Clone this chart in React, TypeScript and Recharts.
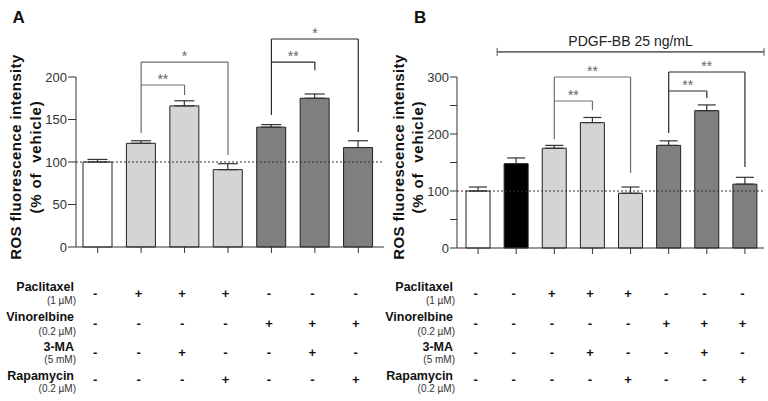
import React from 'react';
import {
  BarChart, Bar, XAxis, YAxis, ErrorBar, Cell, ReferenceLine, ReferenceArea,
} from 'recharts';

// ---------- data ----------
const groupsA = ['Vehicle', 'Paclitaxel', 'Paclitaxel + 3-MA', 'Paclitaxel + Rapamycin', 'Vinorelbine', 'Vinorelbine + 3-MA', 'Vinorelbine + Rapamycin'];
const rosA = [100, 122, 166, 91, 141, 175, 117];
const semA = [3, 3, 6, 7, 3, 5, 8];

const groupsB = ['Vehicle', 'PDGF-BB', 'PDGF-BB + Paclitaxel', 'PDGF-BB + Paclitaxel + 3-MA', 'PDGF-BB + Paclitaxel + Rapamycin', 'PDGF-BB + Vinorelbine', 'PDGF-BB + Vinorelbine + 3-MA', 'PDGF-BB + Vinorelbine + Rapamycin'];
const rosB = [100, 148, 175, 220, 96, 180, 241, 112];
const semB = [7, 10, 5, 9, 11, 8, 10, 12];

const ticksA = [0, 50, 100, 150, 200];
const ticksB = [0, 50, 100, 150, 200, 250, 300];

const treatmentNames = ['Paclitaxel', 'Vinorelbine', '3-MA', 'Rapamycin'];
const treatmentDoses = ['(1 µM)', '(0.2 µM)', '(5 mM)', '(0.2 µM)'];

const paclitaxelA = ['-', '+', '+', '+', '-', '-', '-'];
const vinorelbineA = ['-', '-', '-', '-', '+', '+', '+'];
const maA = ['-', '-', '+', '-', '-', '+', '-'];
const rapamycinA = ['-', '-', '-', '+', '-', '-', '+'];

const paclitaxelB = ['-', '-', '+', '+', '+', '-', '-', '-'];
const vinorelbineB = ['-', '-', '-', '-', '-', '+', '+', '+'];
const maB = ['-', '-', '-', '+', '-', '-', '+', '-'];
const rapamycinB = ['-', '-', '-', '-', '+', '-', '-', '+'];

// significance brackets: from/to group index, level of bar, leg ends (value units)
const sigA = [
  { from: 1, to: 2, level: 190.6, leftEnd: 134, rightEnd: 178.8, mark: '**', tone: 'pac' },
  { from: 1, to: 3, level: 217.6, leftEnd: 190.6, rightEnd: 108.2, mark: '*', tone: 'pac' },
  { from: 4, to: 5, level: 217.6, leftEnd: 155.3, rightEnd: 208, mark: '**', tone: 'vin' },
  { from: 4, to: 6, level: 244.7, leftEnd: 217.6, rightEnd: 135.3, mark: '*', tone: 'vin' },
];
const sigB = [
  { from: 2, to: 3, level: 257.9, leftEnd: 191, rightEnd: 242, mark: '**', tone: 'pac' },
  { from: 2, to: 4, level: 300, leftEnd: 257.9, rightEnd: 131.6, mark: '**', tone: 'pac' },
  { from: 5, to: 6, level: 275.4, leftEnd: 201.8, rightEnd: 263, mark: '**', tone: 'vin' },
  { from: 5, to: 7, level: 308.8, leftEnd: 275.4, rightEnd: 142, mark: '**', tone: 'vin' },
];
const pdgfLabel = 'PDGF-BB 25 ng/mL';
const pdgfLevel = 344;

// ---------- styles ----------
const FONT = '"Liberation Sans", Arial, sans-serif';
const WHITE = '#ffffff';
const LIGHT = '#d4d4d4';
const DARK = '#7f7f7f';
const BLACK = '#000000';
const fillsA = [WHITE, LIGHT, LIGHT, LIGHT, DARK, DARK, DARK];
const fillsB = [WHITE, BLACK, LIGHT, LIGHT, LIGHT, DARK, DARK, DARK];
const toneColor: Record<string, string> = { pac: '#6e6e6e', vin: '#2a2a2a' };
const AXIS = '#333333';

const dataA = groupsA.map((g, i) => ({ name: g, value: rosA[i], err: [0, semA[i]] }));
const dataB = groupsB.map((g, i) => ({ name: g, value: rosB[i], err: [0, semB[i]] }));

const signRowsY = [293, 323, 352.5, 379.5];
const labelRowsY = [287, 317, 347, 376];
const doseRowsY = [300, 331, 359, 388];

function makeSignTick(rows: string[][], groups: string[]) {
  return (props: any) => {
    const { x, payload } = props;
    let idx = groups.indexOf(payload?.value);
    if (idx < 0) idx = props.index ?? 0;
    return (
      <g>
        {rows.map((r, k) => (
          <text key={k} x={x - 2.5} y={signRowsY[k]} textAnchor="middle" dominantBaseline="central"
            fontFamily={FONT} fontWeight="bold" fontSize={13} fill="#111">{r[idx]}</text>
        ))}
      </g>
    );
  };
}

function brackets(sig: typeof sigA, groups: string[], fontSize: number) {
  const out: React.ReactNode[] = [];
  sig.forEach((s, i) => {
    const c = toneColor[s.tone];
    const a = groups[s.from];
    const b = groups[s.to];
    out.push(
      <ReferenceLine key={`l${i}`} segment={[{ x: a, y: s.leftEnd }, { x: a, y: s.level }]} stroke={c} strokeWidth={1.2} ifOverflow="visible" />,
      <ReferenceLine key={`r${i}`} segment={[{ x: b, y: s.rightEnd }, { x: b, y: s.level }]} stroke={c} strokeWidth={1.2} ifOverflow="visible" />,
      <ReferenceLine key={`h${i}`} segment={[{ x: a, y: s.level }, { x: b, y: s.level }]} stroke={c} strokeWidth={1.2} ifOverflow="visible"
        label={{ value: s.mark, position: 'top', offset: 1, fill: '#666', fontSize, fontFamily: FONT }} />,
    );
  });
  return out;
}

function RowLabels({ right }: { right: number }) {
  return (
    <g>
      {treatmentNames.map((t, k) => (
        <g key={k}>
          <text x={right} y={labelRowsY[k]} textAnchor="end" dominantBaseline="central" fontFamily={FONT}
            fontWeight="bold" fontSize={12.5} fill="#111">{t}</text>
          <text x={right + 2} y={doseRowsY[k]} textAnchor="end" dominantBaseline="central" fontFamily={FONT}
            fontSize={10} fill="#333">{treatmentDoses[k]}</text>
        </g>
      ))}
    </g>
  );
}

function YLabel({ x1, x2, cy }: { x1: number; x2: number; cy: number }) {
  return (
    <g fontFamily={FONT} fontWeight="bold" fontSize={15} fill="#111">
      <text x={x1} y={cy} textAnchor="middle" dominantBaseline="central" transform={`rotate(-90 ${x1} ${cy})`}
        letterSpacing={0.4}>ROS fluorescence intensity</text>
      <text x={x2} y={cy} textAnchor="middle" dominantBaseline="central" transform={`rotate(-90 ${x2} ${cy})`}
        letterSpacing={0.8} style={{ whiteSpace: 'pre' }}>{'(% of  vehicle)'}</text>
    </g>
  );
}

export default function App() {
  const tickStyle = { fontFamily: FONT, fontSize: 13, fill: '#333' };
  return (
    <div style={{ position: 'absolute', left: 0, top: 0, width: 768, height: 401, background: '#fff' }}>
      <div style={{ position: 'absolute', left: 0, top: 0 }}>
        <BarChart width={384} height={401} data={dataA} margin={{ top: 77, right: 0, left: 0, bottom: 14 }}
          barCategoryGap={0}>
          <XAxis dataKey="name" type="category" height={140} interval={0} padding={{ left: 0, right: 4 }}
            stroke={AXIS} tickSize={6} tick={makeSignTick([paclitaxelA, vinorelbineA, maA, rapamycinA], groupsA)} />
          <YAxis type="number" domain={[0, 200]} ticks={ticksA} width={76} stroke={AXIS} tickSize={8} tickMargin={1}
            tick={tickStyle} interval={0} />
          <Bar dataKey="value" barSize={29} stroke="#222" strokeWidth={1} isAnimationActive={false}>
            {dataA.map((d, i) => <Cell key={d.name} fill={fillsA[i]} />)}
            <ErrorBar dataKey="err" width={10} stroke="#333" strokeWidth={1.2} direction="y" />
          </Bar>
          <ReferenceLine y={100} stroke="#333" strokeDasharray="2 2" strokeWidth={1} />
          {brackets(sigA, groupsA, 14)}
        </BarChart>
      </div>
      <div style={{ position: 'absolute', left: 384, top: 0 }}>
        <BarChart width={384} height={401} data={dataB} margin={{ top: 77, right: 4, left: 0, bottom: 13 }}
          barCategoryGap={0}>
          <XAxis dataKey="name" type="category" height={140} interval={0} padding={{ left: 2, right: 0 }}
            stroke={AXIS} tickSize={6} tick={makeSignTick([paclitaxelB, vinorelbineB, maB, rapamycinB], groupsB)} />
          <YAxis type="number" domain={[0, 300]} ticks={ticksB} width={73} stroke={AXIS} tickSize={7} tickMargin={1}
            tick={tickStyle} interval={0} tickFormatter={(v: number) => (v % 100 === 0 ? String(v) : '')} />
          <Bar dataKey="value" barSize={24} stroke="#222" strokeWidth={1} isAnimationActive={false}>
            {dataB.map((d, i) => <Cell key={d.name} fill={fillsB[i]} />)}
            <ErrorBar dataKey="err" width={9} stroke="#333" strokeWidth={1.2} direction="y" />
          </Bar>
          <ReferenceLine y={100} stroke="#333" strokeDasharray="2 2" strokeWidth={1} />
          <ReferenceArea x1={groupsB[1]} x2={groupsB[groupsB.length - 1]} y1={pdgfLevel - 0.1} y2={pdgfLevel + 0.1}
            stroke="#555" strokeWidth={1} fill="#555" fillOpacity={1} ifOverflow="visible"
            label={{ value: pdgfLabel, position: 'top', offset: 6, fill: '#222', fontSize: 14, fontFamily: FONT }} />
          <ReferenceLine segment={[{ x: groupsB[1], y: pdgfLevel - 7 }, { x: groupsB[1], y: pdgfLevel + 7 }]}
            position="start" stroke="#555" ifOverflow="visible" />
          <ReferenceLine segment={[{ x: groupsB[groupsB.length - 1], y: pdgfLevel - 7 }, { x: groupsB[groupsB.length - 1], y: pdgfLevel + 7 }]}
            position="end" stroke="#555" ifOverflow="visible" />
          {brackets(sigB, groupsB, 14)}
        </BarChart>
      </div>
      <svg width={768} height={401} style={{ position: 'absolute', left: 0, top: 0, pointerEvents: 'none' }}>
        <text x={12.5} y={22.7} fontFamily={FONT} fontWeight="bold" fontSize={17} fill="#111">A</text>
        <text x={414} y={22.7} fontFamily={FONT} fontWeight="bold" fontSize={17} fill="#111">B</text>
        <YLabel x1={15} x2={35} cy={157} />
        <YLabel x1={398} x2={417} cy={157} />
        <RowLabels right={74} />
        <RowLabels right={453} />
      </svg>
    </div>
  );
}
